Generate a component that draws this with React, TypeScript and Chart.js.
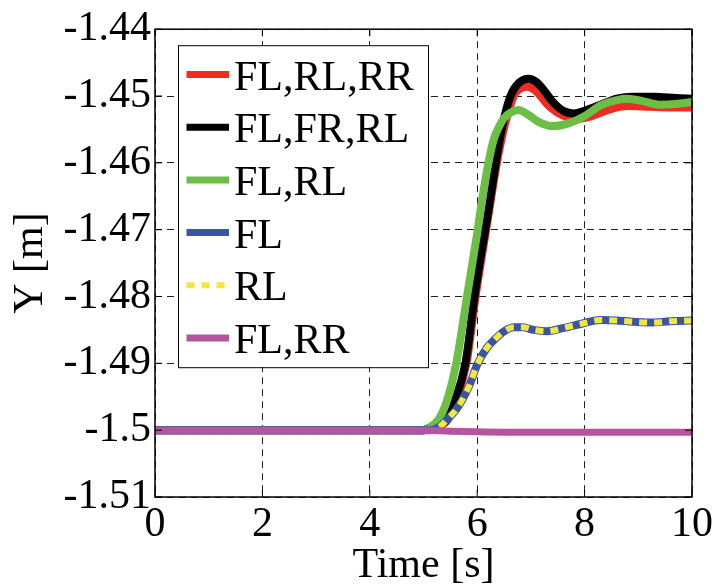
import React, { useEffect, useRef } from 'react';
import { Chart, registerables } from 'chart.js';

Chart.register(...registerables);

const seriesLabels = ['FL,RL,RR', 'FL,FR,RL', 'FL,RL', 'FL', 'RL', 'FL,RR'];
const seriesColors = ['#EE2B25', '#000000', '#6CBE45', '#3B54A5', '#F1E83B', '#B5559F'];

const timeRed = [0, 5.0, 5.1, 5.3, 5.45, 5.6, 5.8, 5.97, 6.2, 6.36, 6.5, 6.68, 6.8, 6.93, 7.1, 7.3, 7.5, 7.7, 7.9, 8.1, 8.3, 8.55, 8.8, 9.2, 9.6, 10];
const yRed = [-1.5, -1.5, -1.4997, -1.4993, -1.4985, -1.4957, -1.49, -1.48, -1.4683, -1.4603, -1.4548, -1.45, -1.4489, -1.4486, -1.4493, -1.4512, -1.4525, -1.4532, -1.4534, -1.4531, -1.4525, -1.4518, -1.4515, -1.4516, -1.4517, -1.4517];

const timeBlack = [0, 5.0, 5.09, 5.25, 5.44, 5.59, 5.78, 5.95, 6.07, 6.18, 6.34, 6.46, 6.62, 6.78, 6.96, 7.1, 7.25, 7.4, 7.6, 7.8, 8.0, 8.3, 8.6, 8.9, 9.3, 9.7, 10];
const yBlack = [-1.5, -1.5, -1.4997, -1.4993, -1.4984, -1.4955, -1.49, -1.48, -1.4738, -1.4686, -1.4603, -1.4548, -1.45, -1.448, -1.4474, -1.4479, -1.4492, -1.4508, -1.4522, -1.4526, -1.4522, -1.4513, -1.4504, -1.4501, -1.4501, -1.4503, -1.4504];

const timeGreen = [0, 5.0, 5.09, 5.28, 5.44, 5.61, 5.81, 6.0, 6.09, 6.21, 6.3, 6.4, 6.5, 6.62, 6.77, 6.95, 7.15, 7.42, 7.7, 7.98, 8.3, 8.6, 8.8, 9.1, 9.4, 9.7, 10];
const yGreen = [-1.5, -1.5, -1.4997, -1.4984, -1.4955, -1.49, -1.48, -1.4705, -1.4656, -1.46, -1.4567, -1.4547, -1.4533, -1.4525, -1.4521, -1.4528, -1.4539, -1.4545, -1.4541, -1.4531, -1.4514, -1.4506, -1.4504, -1.4508, -1.4513, -1.4512, -1.4509];

const timeBlue = [0, 5.0, 5.1, 5.3, 5.44, 5.6, 5.72, 5.86, 6.0, 6.17, 6.34, 6.5, 6.68, 6.85, 7.05, 7.3, 7.61, 7.98, 8.29, 8.6, 9.23, 9.6, 10];
const yBlue = [-1.5, -1.5, -1.5, -1.4995, -1.4984, -1.497, -1.4955, -1.4932, -1.4902, -1.4878, -1.4863, -1.4852, -1.4846, -1.4846, -1.485, -1.4852, -1.4847, -1.484, -1.4835, -1.4836, -1.4839, -1.4837, -1.4836];

const timeYellow = [0, 5.0, 5.1, 5.3, 5.44, 5.6, 5.72, 5.86, 6.0, 6.17, 6.34, 6.5, 6.68, 6.85, 7.05, 7.3, 7.61, 7.98, 8.29, 8.6, 9.23, 9.6, 10];
const yYellow = [-1.5, -1.5, -1.5, -1.4995, -1.4984, -1.497, -1.4955, -1.4932, -1.4902, -1.4878, -1.4863, -1.4852, -1.4846, -1.4846, -1.485, -1.4852, -1.4847, -1.484, -1.4835, -1.4836, -1.4839, -1.4837, -1.4836];

const timeMagenta = [0, 5.0, 5.5, 6.0, 6.5, 10];
const yMagenta = [-1.5, -1.5, -1.50015, -1.50025, -1.5003, -1.5003];

const xTickValues = [0, 2, 4, 6, 8, 10];
const xTickLabels = ['0', '2', '4', '6', '8', '10'];
const yTickValues = [-1.51, -1.5, -1.49, -1.48, -1.47, -1.46, -1.45, -1.44];
const yTickLabels = ['-1.51', '-1.5', '-1.49', '-1.48', '-1.47', '-1.46', '-1.45', '-1.44'];

const FONT = "'Liberation Serif', 'Times New Roman', serif";

export default function App() {
  const ref = useRef<HTMLCanvasElement>(null);

  useEffect(() => {
    const canvas = ref.current;
    if (!canvas) return;
    const pts = (ts: number[], ys: number[]) => ts.map((t, i) => ({ x: t, y: ys[i] }));

    const datasets: any[] = [
      { label: seriesLabels[0], data: pts(timeRed, yRed), borderColor: seriesColors[0], borderWidth: 8, order: 5 },
      { label: seriesLabels[1], data: pts(timeBlack, yBlack), borderColor: seriesColors[1], borderWidth: 8, order: 4 },
      { label: seriesLabels[2], data: pts(timeGreen, yGreen), borderColor: seriesColors[2], borderWidth: 8, order: 3 },
      { label: seriesLabels[3], data: pts(timeBlue, yBlue), borderColor: seriesColors[3], borderWidth: 8, order: 2 },
      { label: seriesLabels[4], data: pts(timeYellow, yYellow), borderColor: seriesColors[4], borderWidth: 6, borderDash: [8, 7], order: 1 },
      { label: seriesLabels[5], data: pts(timeMagenta, yMagenta), borderColor: seriesColors[5], borderWidth: 7, order: 0 },
    ];

    const framePlugin = {
      id: 'frame',
      afterDatasetsDraw(chart: any) {
        const { ctx, chartArea: ca, scales } = chart;
        ctx.save();
        ctx.strokeStyle = '#000';
        ctx.lineWidth = 1.5;
        ctx.setLineDash([]);
        ctx.strokeRect(ca.left, ca.top, ca.right - ca.left, ca.bottom - ca.top);
        ctx.lineWidth = 1;
        const tl = 7;
        ctx.beginPath();
        xTickValues.forEach((v) => {
          const x = scales.x.getPixelForValue(v);
          ctx.moveTo(x, ca.bottom); ctx.lineTo(x, ca.bottom - tl);
          ctx.moveTo(x, ca.top); ctx.lineTo(x, ca.top + tl);
        });
        yTickValues.forEach((v) => {
          const y = scales.y.getPixelForValue(v);
          ctx.moveTo(ca.left, y); ctx.lineTo(ca.left + tl, y);
          ctx.moveTo(ca.right, y); ctx.lineTo(ca.right - tl, y);
        });
        ctx.stroke();
        ctx.restore();
      },
    };

    const legendPlugin = {
      id: 'boxLegend',
      afterDatasetsDraw(chart: any) {
        const { ctx, chartArea: ca } = chart;
        const x0 = ca.left + 23;
        const y0 = ca.top + 16;
        const w = 250;
        const h = 322;
        ctx.save();
        ctx.fillStyle = '#fff';
        ctx.fillRect(x0, y0, w, h);
        ctx.strokeStyle = '#000';
        ctx.lineWidth = 1;
        ctx.setLineDash([]);
        ctx.strokeRect(x0 + 0.5, y0 + 0.5, w, h);
        chart.data.datasets.forEach((ds: any, i: number) => {
          const cy = y0 + 29.3 + i * 52.7;
          ctx.beginPath();
          ctx.strokeStyle = ds.borderColor;
          ctx.lineWidth = ds.borderDash ? 6 : 7;
          ctx.setLineDash(ds.borderDash || []);
          ctx.lineCap = 'butt';
          ctx.moveTo(x0 + 8.5, cy);
          ctx.lineTo(x0 + 51, cy);
          ctx.stroke();
          ctx.setLineDash([]);
          ctx.fillStyle = '#000';
          ctx.font = `42px ${FONT}`;
          ctx.textBaseline = 'alphabetic';
          ctx.textAlign = 'left';
          ctx.fillText(ds.label, x0 + 56, cy + 15);
        });
        ctx.restore();
      },
    };

    const chart = new Chart(canvas, {
      type: 'line',
      data: { datasets },
      options: {
        responsive: false,
        animation: false,
        devicePixelRatio: 1,
        layout: { padding: { top: 29, right: 24, left: 0, bottom: 0 } },
        plugins: { legend: { display: false }, tooltip: { enabled: false } },
        elements: {
          point: { radius: 0 },
          line: { tension: 0.4, cubicInterpolationMode: 'monotone', borderCapStyle: 'butt', borderJoinStyle: 'round' },
        },
        scales: {
          x: {
            type: 'linear',
            min: 0,
            max: 10,
            afterBuildTicks: (s: any) => { s.ticks = xTickValues.map((v) => ({ value: v })); },
            afterFit: (s: any) => { s.height = 91; },
            ticks: {
              font: { family: FONT, size: 42 },
              color: '#000',
              padding: 3,
              maxRotation: 0,
              autoSkip: false,
              callback: (_v: any, i: number) => xTickLabels[i],
            },
            grid: { color: '#222', lineWidth: 1, drawTicks: false },
            border: { display: false, dash: [7, 5] },
            title: {
              display: true,
              text: 'Time [s]',
              color: '#000',
              font: { family: FONT, size: 42, lineHeight: 1 },
              padding: { top: 0, bottom: 1 },
            },
          },
          y: {
            type: 'linear',
            min: -1.51,
            max: -1.44,
            afterBuildTicks: (s: any) => { s.ticks = yTickValues.map((v) => ({ value: v })); },
            afterFit: (s: any) => { s.width = 155; },
            ticks: {
              font: { family: FONT, size: 42 },
              color: '#000',
              padding: 4,
              autoSkip: false,
              callback: (_v: any, i: number) => yTickLabels[i],
            },
            grid: { color: '#222', lineWidth: 1, drawTicks: false },
            border: { display: false, dash: [7, 5] },
            title: {
              display: true,
              text: 'Y [m]',
              color: '#000',
              font: { family: FONT, size: 42, lineHeight: 1 },
              padding: { top: 10, bottom: 0 },
            },
          },
        },
      } as any,
      plugins: [framePlugin, legendPlugin],
    });

    return () => chart.destroy();
  }, []);

  return (
    <div style={{ position: 'fixed', left: 0, top: 0, width: 716, height: 588, background: '#fff' }}>
      <canvas ref={ref} width={716} height={588} style={{ display: 'block' }} />
    </div>
  );
}
